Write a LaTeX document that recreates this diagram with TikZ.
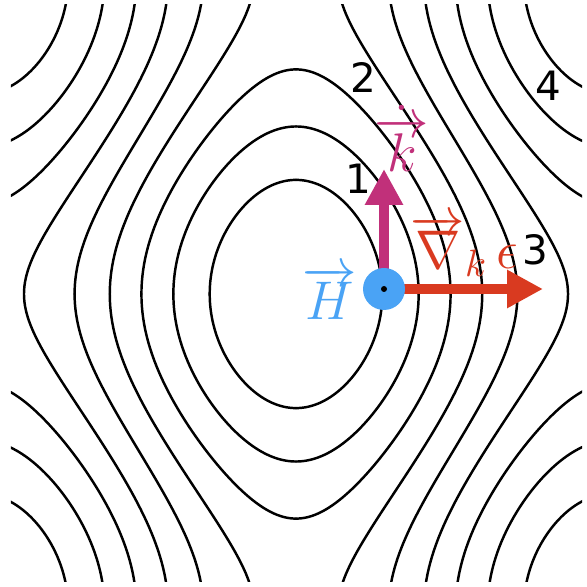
\RequirePackage{fix-cm}
\documentclass[tikz,border=0pt]{standalone}
\usepackage{fontspec}
\newfontfamily\numfont{DejaVu Sans}
\usetikzlibrary{positioning,arrows.meta,calc}
\definecolor{kdotcol}{HTML}{C1307A}
\definecolor{gradcol}{HTML}{D93A20}
\definecolor{fieldcol}{HTML}{4AA3F5}
\tikzset{
  contour/.style={black, line width=0.7pt, line cap=round},
  lab/.style={font=\fontsize{15.5}{18}\selectfont, inner sep=0pt},
  num/.style={font=\numfont\fontsize{11.5}{13}\selectfont, inner sep=0pt},
  arr/.style={-{Triangle[length=3.6mm, width=3.6mm]}, line width=2.8pt},
  fieldpt/.style={circle, fill=fieldcol, minimum size=4.2mm, inner sep=0pt}}

\begin{document}
\begin{tikzpicture}
\useasboundingbox (-2.96,-2.93) rectangle (2.90,2.94);
% energy levels of -cos kx - 0.6 cos ky
\begin{scope}
\clip (-2.85,-2.87) rectangle (2.86,2.89);
\foreach \c in {-1.25,-0.9375,-0.625,-0.3125,0,0.3125,0.625,0.9375,1.25}{
  \pgfmathsetmacro\xa{acos(min(1,0.6-(\c)))}
  \pgfmathsetmacro\xb{acos(max(-1,-0.6-(\c)))}
  \foreach \sx/\sy in {1/1,-1/1,1/-1,-1/-1}
    \draw[contour, xscale=\sx, yscale=\sy] plot[domain=0:180, samples=60, variable=\t]
      ({(\xa+(\xb-\xa)*(1-cos(\t))/2)/57.2958},
       {acos(max(-1,min(1,(-(\c)-cos(\xa+(\xb-\xa)*(1-cos(\t))/2))/0.6)))/57.2958});
}
\end{scope}

\coordinate (Hc) at (0.88,0.05);
\coordinate (ktip) at (0.88,1.25);
\coordinate (etip) at (2.47,0.05);
\draw[arr, kdotcol, line width=2.6pt] (Hc) -- (ktip);
\draw[arr, gradcol, line width=3pt] (Hc) -- (etip);
\node[fieldpt] (dot) at (Hc) {};
\fill (dot.center) circle (0.03);

\node[lab, text=kdotcol] (kdotlab) at ($(ktip)+(0.18,0.305)$) {$\dot{\overrightarrow{k}}$};
\node[lab, text=gradcol] (gradlab) at ($(dot)+(0.805,0.43)$) {$\overrightarrow{\nabla}_{k}\,\epsilon$};
\node[lab, text=fieldcol] (Hlab) at ($(dot)+(-0.54,-0.04)$) {$\overrightarrow{H}$};

\node[num] (n1) at (0.62,1.15) {1};
\node[num] (n2) at (0.67,2.16) {2};
\node[num] (n3) at (2.39,0.44) {3};
\node[num] (n4) at (2.52,2.08) {4};
\end{tikzpicture}
\end{document}
